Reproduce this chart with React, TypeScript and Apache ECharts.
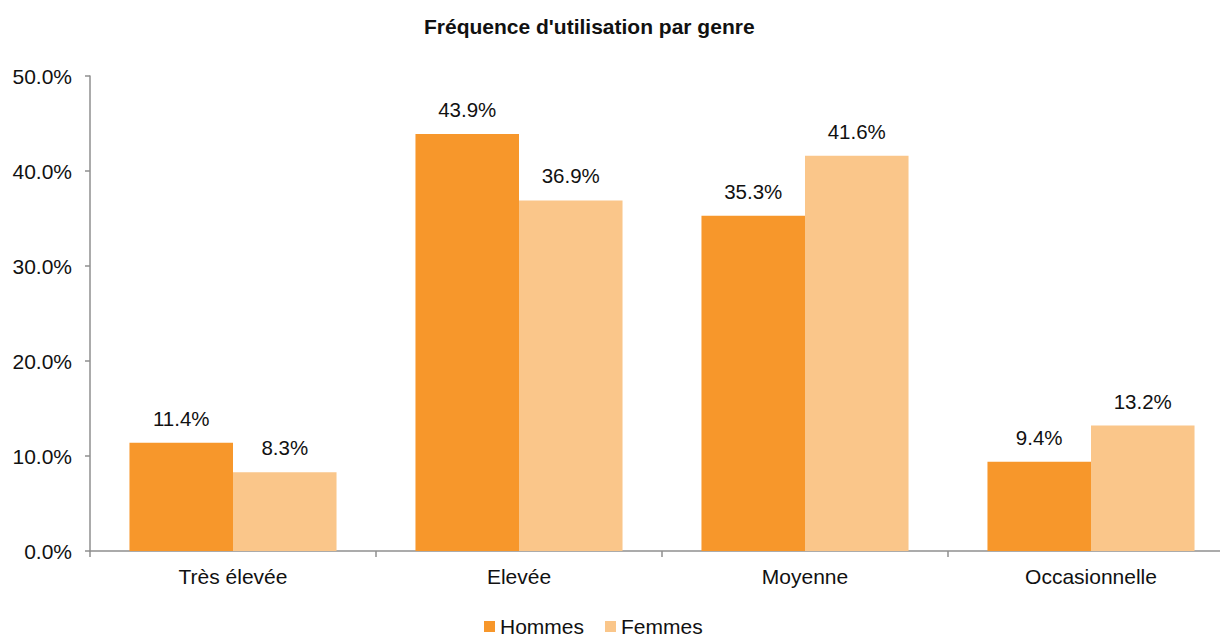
import React, { useEffect, useRef } from "react";
import * as echarts from "echarts";

const categories = ["Très élevée", "Elevée", "Moyenne", "Occasionnelle"];
const hommes = [11.4, 43.9, 35.3, 9.4];
const femmes = [8.3, 36.9, 41.6, 13.2];
const seriesNames = ["Hommes", "Femmes"];
const titleText = "Fréquence d'utilisation par genre";

const FONT = "'Liberation Sans', Arial, sans-serif";

export default function App() {
  const ref = useRef<HTMLDivElement>(null);
  useEffect(() => {
    document.body.style.margin = "0";
    const chart = echarts.init(ref.current!, null, { renderer: "svg" });
    const labelStyle = {
      show: true,
      position: "top",
      distance: 14,
      fontSize: 20.5,
      fontFamily: FONT,
      color: "#111",
      formatter: (p: any) => p.value.toFixed(1) + "%",
    };
    chart.setOption({
      animation: false,
      backgroundColor: "#fff",
      title: {
        text: titleText,
        left: 419,
        top: 11,
        textStyle: { fontSize: 21, fontWeight: "bold", fontFamily: FONT, color: "#111" },
      },
      legend: {
        data: seriesNames,
        left: 484,
        top: 616,
        padding: 0,
        icon: "rect",
        itemWidth: 11,
        itemHeight: 11,
        itemGap: 21,
        textStyle: { fontSize: 21, lineHeight: 14, fontFamily: FONT, color: "#111", padding: [0, 0, 0, 0] },
      },
      grid: { left: 90, top: 76, width: 1144, height: 475, containLabel: false, outerBoundsMode: "none" },
      xAxis: {
        type: "category",
        data: categories,
        axisLine: { lineStyle: { color: "#8f8f8f", width: 1.5 } },
        axisTick: { show: true, length: 6, lineStyle: { color: "#8f8f8f", width: 1.5 } },
        axisLabel: { fontSize: 21, fontFamily: FONT, color: "#111", margin: 15 },
      },
      yAxis: {
        type: "value",
        min: 0,
        max: 50,
        interval: 10,
        splitLine: { show: false },
        axisLine: { show: true, lineStyle: { color: "#8f8f8f", width: 1.5 } },
        axisTick: { show: true, length: 5, lineStyle: { color: "#8f8f8f", width: 1.5 } },
        axisLabel: {
          fontSize: 21,
          fontFamily: FONT,
          color: "#111",
          margin: 18,
          formatter: (v: number) => v.toFixed(1) + "%",
        },
      },
      series: [
        {
          name: seriesNames[0],
          type: "bar",
          data: hommes,
          barGap: "0%",
          barCategoryGap: "27.6%",
          itemStyle: { color: "#F7972B" },
          label: labelStyle,
        },
        {
          name: seriesNames[1],
          type: "bar",
          data: femmes,
          barGap: "0%",
          barCategoryGap: "27.6%",
          itemStyle: { color: "#FAC68A" },
          label: labelStyle,
        },
      ],
    });
    return () => chart.dispose();
  }, []);
  return (
    <div
      ref={ref}
      style={{ position: "absolute", left: 0, top: 0, width: 1220, height: 634 }}
    />
  );
}
